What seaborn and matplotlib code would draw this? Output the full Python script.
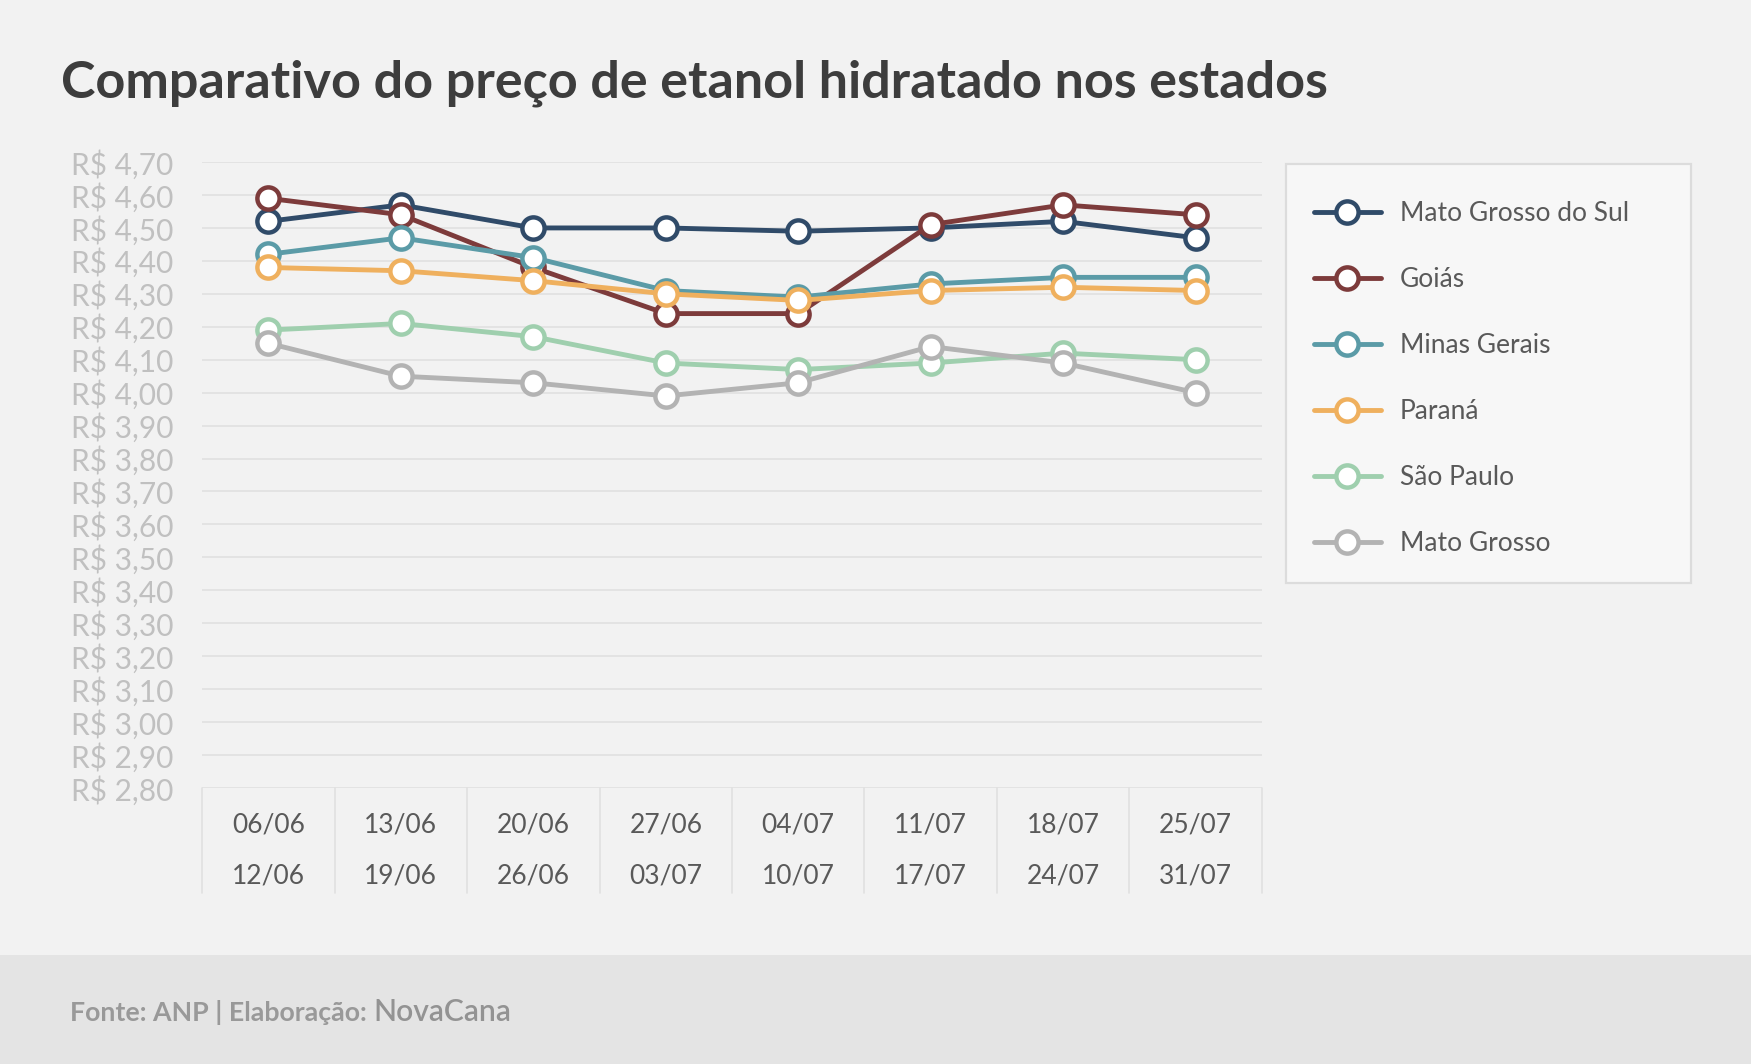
import matplotlib.pyplot as plt
import matplotlib.transforms as mtransforms
from matplotlib.patches import Rectangle
from matplotlib.ticker import FuncFormatter, MultipleLocator
import pandas as pd
import seaborn as sns

semanas = ["06/06\n12/06", "13/06\n19/06", "20/06\n26/06", "27/06\n03/07",
           "04/07\n10/07", "11/07\n17/07", "18/07\n24/07", "25/07\n31/07"]
estados = ["Mato Grosso do Sul", "Goiás", "Minas Gerais", "Paraná",
           "São Paulo", "Mato Grosso"]
mato_grosso_do_sul = [4.52, 4.57, 4.50, 4.50, 4.49, 4.50, 4.52, 4.47]
goias = [4.59, 4.54, 4.38, 4.24, 4.24, 4.51, 4.57, 4.54]
minas_gerais = [4.42, 4.47, 4.41, 4.31, 4.29, 4.33, 4.35, 4.35]
parana = [4.38, 4.37, 4.34, 4.30, 4.28, 4.31, 4.32, 4.31]
sao_paulo = [4.19, 4.21, 4.17, 4.09, 4.07, 4.09, 4.12, 4.10]
mato_grosso = [4.15, 4.05, 4.03, 3.99, 4.03, 4.14, 4.09, 4.00]
cores = ["#304b69", "#7d3b3b", "#5b9ba7", "#efb05e", "#9fcfae", "#b3b3b3"]

series = [mato_grosso_do_sul, goias, minas_gerais, parana, sao_paulo, mato_grosso]
df = pd.DataFrame({
    "semana": semanas * len(estados),
    "estado": [e for e in estados for _ in semanas],
    "preco": [v for s in series for v in s],
})

sns.set_style("white")
plt.rcParams["font.family"] = ["Lato", "DejaVu Sans"]

fig = plt.figure(figsize=(17.51, 10.64), dpi=100, facecolor="#f2f2f2")
ax = fig.add_axes([0.1154, 0.2594, 0.6053, 0.5883])
ax.set_facecolor("#f2f2f2")

sns.lineplot(data=df, x="semana", y="preco", hue="estado", hue_order=estados,
             palette=cores, sort=False, marker="o", markersize=16,
             markerfacecolor="white", linewidth=3.5, legend=False, ax=ax)
for line in ax.lines:
    line.set_markeredgecolor(line.get_color())
    line.set_markeredgewidth(3.2)

ax.set_xlim(-0.5, len(semanas) - 0.5)
ax.set_ylim(2.80, 4.70)
ax.yaxis.set_major_locator(MultipleLocator(0.1))
ax.yaxis.set_major_formatter(
    FuncFormatter(lambda v, p: "R$ " + f"{v:.2f}".replace(".", ",")))
ax.grid(axis="y", color="#e0e0e0", linewidth=1.2)
ax.grid(axis="x", visible=False)
for s in ax.spines.values():
    s.set_visible(False)
ax.set_xlabel("")
ax.set_ylabel("")
ax.set_xticks(range(len(semanas)), labels=semanas, linespacing=2.3)
ax.tick_params(axis="x", length=0, pad=17.5, labelsize=19, labelcolor="#595959")
ax.tick_params(axis="y", length=0, pad=20.5, labelsize=21.5, labelcolor="#c0c0c0")

# separadores das semanas abaixo do eixo
trans = mtransforms.blended_transform_factory(ax.transData, ax.transAxes)
for i in range(len(semanas) + 1):
    ax.plot([i - 0.5, i - 0.5], [0, -0.168], transform=trans, color="#e0e0e0",
            linewidth=1.2, clip_on=False)

# caixa da legenda
fig.patches.append(Rectangle((0.7344, 0.452), 0.2313, 0.3939,
                             transform=fig.transFigure, facecolor="#f7f7f7",
                             edgecolor="#dcdcdc", linewidth=1.6, zorder=0))
fig.legend(handles=ax.lines[:len(estados)], labels=estados, loc="upper left",
           bbox_to_anchor=(0.7503, 0.8108), borderaxespad=0, borderpad=0,
           fontsize=19, labelcolor="#595959", frameon=False,
           labelspacing=1.55, handlelength=2.55, handletextpad=0.7,
           numpoints=1)

fig.text(0.035, 0.908, "Comparativo do preço de etanol hidratado nos estados",
         fontsize=37.5, fontweight="bold", color="#3d3d3d", va="baseline")

fig.patches.append(Rectangle((0, 0), 1, 0.1024, transform=fig.transFigure,
                             facecolor="#e4e4e4", edgecolor="none", zorder=0))
t1 = fig.text(0.04, 0.0404, "Fonte: ANP | Elaboração: ", fontsize=19.3,
              fontweight="bold", color="#999999", va="baseline")
fig.canvas.draw()
bb = t1.get_window_extent()
fig.text(bb.x1 / fig.bbox.width, 0.0404, "NovaCana", fontsize=21.6,
         fontweight="semibold", color="#939393", va="baseline")

plt.savefig("out.png", dpi=100, facecolor=fig.get_facecolor())
